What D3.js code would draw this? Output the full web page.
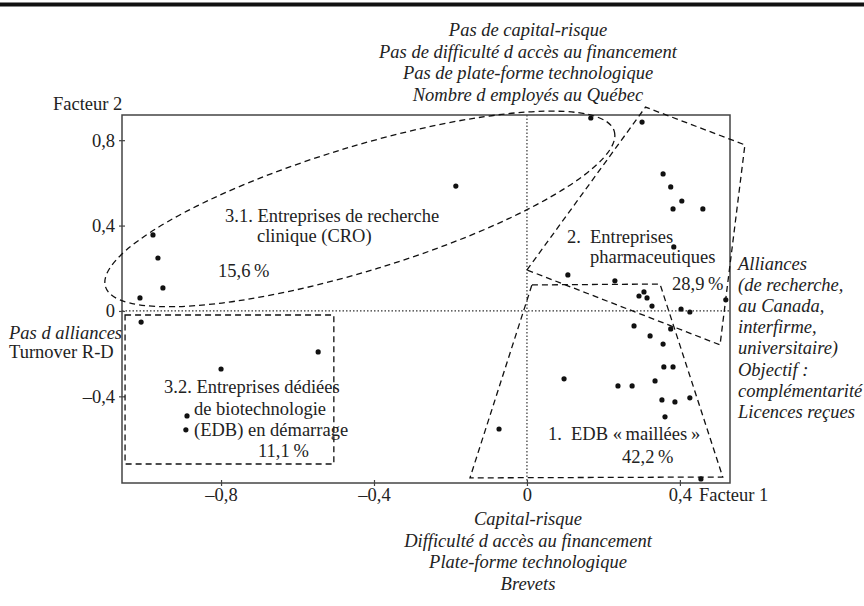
<!DOCTYPE html>
<html>
<head>
<meta charset="utf-8">
<script src="https://cdn.jsdelivr.net/npm/d3@7"></script>
<style>
  body { margin: 0; background: #fff; }
  text { font-family: "Liberation Serif", "Times New Roman", serif; fill: #222; }
</style>
</head>
<body>
<div id="chart"></div>
<script>
// firm coordinates on the two factors
const factor1 = [-0.978, -0.965, -0.952, -1.012, -1.009, -0.800, -0.546, -0.889, -0.892, -0.186,
  0.167, 0.301, 0.356, 0.376, 0.405, 0.382, 0.460, 0.384, 0.107, 0.230,
  0.306, 0.293, 0.314, 0.327, 0.403, 0.426, 0.520, 0.280, 0.376, 0.322,
  0.356, 0.358, 0.382, 0.097, 0.238, 0.275, 0.335, 0.353, 0.387, 0.426,
  0.361, -0.073, 0.455];
const factor2 = [0.356, 0.248, 0.108, 0.061, -0.052, -0.272, -0.192, -0.492, -0.557, 0.585,
  0.904, 0.885, 0.642, 0.581, 0.515, 0.478, 0.478, 0.300, 0.169, 0.141,
  0.089, 0.070, 0.061, 0.023, 0.009, -0.005, 0.052, -0.070, -0.084, -0.117,
  -0.155, -0.262, -0.262, -0.318, -0.351, -0.351, -0.328, -0.417, -0.426, -0.407,
  -0.496, -0.553, -0.787];

const xTicks = [-0.8, -0.4, 0, 0.4];
const yTicks = [-0.4, 0, 0.4, 0.8];

const topPole = ["Pas de capital-risque", "Pas de difficulté d accès au financement",
  "Pas de plate-forme technologique", "Nombre d employés au Québec"];
const bottomPole = ["Capital-risque", "Difficulté d accès au financement",
  "Plate-forme technologique", "Brevets"];
const rightPole = ["Alliances", "(de recherche,", "au Canada,", "interfirme,",
  "universitaire)", "Objectif :", "complémentarité", "Licences reçues"];

// cluster outlines, in factor coordinates
const zoneRect32 = [[-1.051, -0.019], [-0.505, -0.019], [-0.505, -0.717], [-1.051, -0.717]];
const zonePoly1 = [[0.013, 0.122], [0.348, 0.126], [0.512, -0.778], [-0.149, -0.782]];
const zonePoly2 = [[0.0, 0.192], [0.310, 0.955], [0.570, 0.778], [0.505, -0.159]];
const zoneEllipseCenter = [-0.437, 0.478];

const width = 864;
const height = 606;

const svg = d3.select("#chart").append("svg")
  .attr("width", width)
  .attr("height", height)
  .attr("viewBox", [0, 0, width, height]);

const x = d3.scaleLinear().domain([-1.059, 0.531]).range([122, 730]);
const y = d3.scaleLinear().domain([-0.806, 0.918]).range([483, 115]);

const fmt = d => d === 0 ? "0" : (d < 0 ? "\u2013" : "") + Math.abs(d).toFixed(1).replace(".", ",");

// thick rule at the top of the page
svg.append("line")
  .attr("x1", 0).attr("x2", width)
  .attr("y1", 4.5).attr("y2", 4.5)
  .attr("stroke", "#111")
  .attr("stroke-width", 4);

// zero lines
svg.append("line")
  .attr("x1", x(0)).attr("x2", x(0))
  .attr("y1", y.range()[1]).attr("y2", y.range()[0])
  .attr("stroke", "#333").attr("stroke-width", 1.2)
  .attr("stroke-dasharray", "1.5,2");
svg.append("line")
  .attr("x1", x.range()[0]).attr("x2", x.range()[1])
  .attr("y1", y(0)).attr("y2", y(0))
  .attr("stroke", "#333").attr("stroke-width", 1.2)
  .attr("stroke-dasharray", "1.5,2");

// frame
svg.append("rect")
  .attr("x", x.range()[0]).attr("y", y.range()[1])
  .attr("width", x.range()[1] - x.range()[0])
  .attr("height", y.range()[0] - y.range()[1])
  .attr("fill", "none")
  .attr("stroke", "#444")
  .attr("stroke-width", 1.5);

// axes
const xAxis = svg.append("g")
  .attr("transform", `translate(0,${y.range()[0]})`)
  .call(d3.axisBottom(x).tickValues(xTicks).tickFormat(fmt).tickSize(3).tickPadding(2));
const yAxis = svg.append("g")
  .attr("transform", `translate(${x.range()[0]},0)`)
  .call(d3.axisLeft(y).tickValues(yTicks).tickFormat(fmt).tickSize(3).tickPadding(4));

[xAxis, yAxis].forEach(g => {
  g.select(".domain").remove();
  g.selectAll("text")
    .attr("font-family", "Liberation Serif, serif")
    .attr("font-size", 18.5)
    .attr("fill", "#222");
  g.selectAll(".tick line").attr("stroke", "#444").attr("stroke-width", 1.2);
});
xAxis.selectAll(".tick line").attr("y1", -3).attr("y2", 3);
yAxis.selectAll(".tick line").attr("x1", -3).attr("x2", 3);

svg.append("text")
  .attr("x", 699).attr("y", 501)
  .attr("font-size", 18.5)
  .text("Facteur 1");
svg.append("text")
  .attr("x", 53).attr("y", 110)
  .attr("font-size", 18.5)
  .text("Facteur 2");

// cluster outlines
const dashed = sel => sel
  .attr("fill", "none")
  .attr("stroke", "#111")
  .attr("stroke-width", 1.3)
  .attr("stroke-dasharray", "6,4");

const line = d3.line().x(d => x(d[0])).y(d => y(d[1])).curve(d3.curveLinearClosed);
[zoneRect32, zonePoly1, zonePoly2].forEach(z => {
  svg.append("path").attr("d", line(z)).call(dashed);
});

svg.append("ellipse")
  .attr("cx", 0).attr("cy", 0)
  .attr("rx", 266).attr("ry", 62)
  .attr("transform", `translate(${x(zoneEllipseCenter[0])},${y(zoneEllipseCenter[1])}) rotate(-17)`)
  .call(dashed);

// firms
svg.append("g")
  .selectAll("circle")
  .data(d3.range(factor1.length))
  .join("circle")
  .attr("cx", i => x(factor1[i]))
  .attr("cy", i => y(factor2[i]))
  .attr("r", 2.6)
  .attr("fill", "#111");

// pole descriptions
svg.append("g")
  .selectAll("text")
  .data(topPole)
  .join("text")
  .attr("x", 528)
  .attr("y", (d, i) => 36 + i * 21.7)
  .attr("text-anchor", "middle")
  .attr("font-style", "italic")
  .attr("font-size", 18.5)
  .text(d => d);

svg.append("g")
  .selectAll("text")
  .data(bottomPole)
  .join("text")
  .attr("x", 528)
  .attr("y", (d, i) => 525 + i * 21.7)
  .attr("text-anchor", "middle")
  .attr("font-style", "italic")
  .attr("font-size", 18.5)
  .text(d => d);

svg.append("g")
  .selectAll("text")
  .data(rightPole)
  .join("text")
  .attr("x", 738)
  .attr("y", (d, i) => 270 + i * 21.1)
  .attr("font-style", "italic")
  .attr("font-size", 18.5)
  .text(d => d);

svg.append("text")
  .attr("x", 9).attr("y", 339)
  .attr("font-style", "italic")
  .attr("font-size", 18.5)
  .text("Pas d alliances");
svg.append("text")
  .attr("x", 9).attr("y", 358)
  .attr("font-size", 18.5)
  .text("Turnover R-D");

// cluster labels
const labels = [
  ["3.1. Entreprises de recherche", 225, 222],
  ["clinique (CRO)", 257, 242],
  ["15,6\u2009%", 218, 277],
  ["2.", 567, 243],
  ["Entreprises", 590, 243],
  ["pharmaceutiques", 590, 263],
  ["28,9\u2009%", 672, 290],
  ["3.2. Entreprises dédiées", 164, 393],
  ["de biotechnologie", 194, 415],
  ["(EDB) en démarrage", 194, 436],
  ["11,1\u2009%", 258, 457],
  ["1.", 548, 440],
  ["EDB «\u2009maillées\u2009»", 571, 440],
  ["42,2\u2009%", 622, 463]
];
svg.append("g")
  .selectAll("text")
  .data(labels)
  .join("text")
  .attr("x", d => d[1])
  .attr("y", d => d[2])
  .attr("font-size", 18.5)
  .text(d => d[0]);
</script>
</body>
</html>
